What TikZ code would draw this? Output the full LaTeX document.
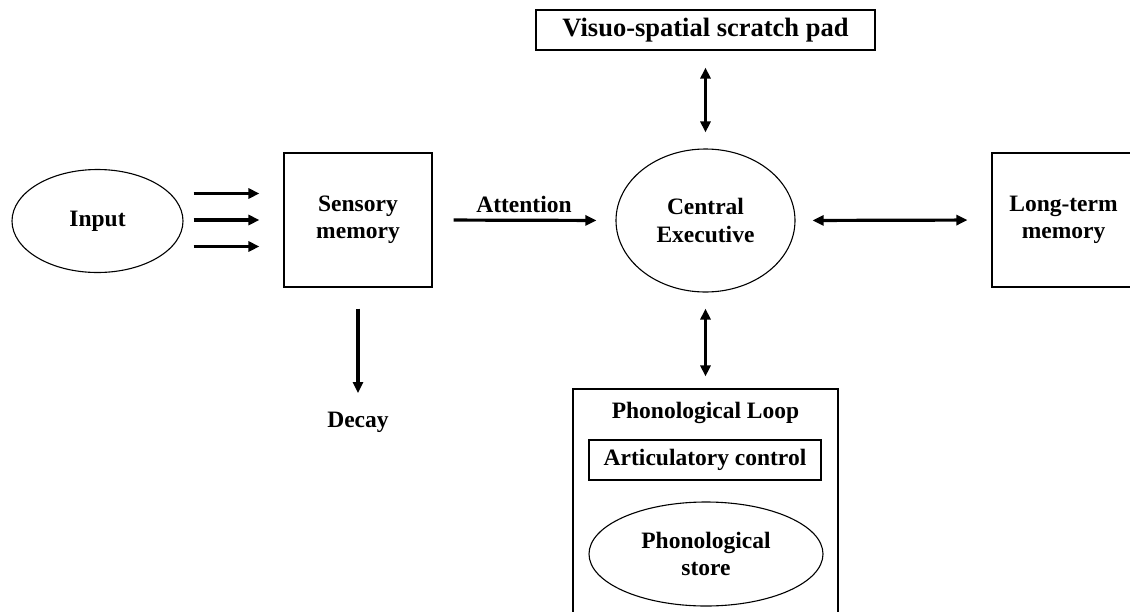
\documentclass[tikz,border=0pt]{standalone}
\usepackage{fontspec}
\setmainfont{Liberation Serif}
\usetikzlibrary{arrows.meta,shapes.geometric}

\begin{document}
\begin{tikzpicture}[x=1pt,y=-1pt,
  every node/.style={font=\fontsize{23.5}{27.5}\selectfont\bfseries,
                     align=center, inner sep=0pt},
  box/.style={draw, line width=1.1pt, rectangle},
  oval/.style={draw, line width=1.1pt, ellipse},
  tip/.tip={Triangle[length=11pt,width=10pt]},
  arr/.style={line width=3.2pt, -tip},
  darr/.style={line width=3.2pt, tip-tip},
]
\useasboundingbox (0,0) rectangle (1130,611);
\fill[white] (0,0) rectangle (1130,611);

% memory stores
\node[oval, minimum width=171pt, minimum height=103pt] (in) at (97.5,221) {Input};
\node[box, minimum width=148pt, minimum height=134pt] (sm) at (358,220) {Sensory\\memory};
\node[oval, minimum width=179pt, minimum height=143pt] (ce) at (705.5,220.5) {Central\\Executive};
\node[box, minimum width=339pt, minimum height=40pt,
      font=\fontsize{26.5}{30}\selectfont\bfseries] (vs) at (705.5,30) {Visuo-spatial scratch pad};
\node[box, minimum width=143pt, minimum height=134pt] (ltm) at (1063.5,220) {Long-term\\memory};

% phonological loop and its parts
\node[box, minimum width=265pt, minimum height=260pt] (loop) at (705.5,519) {};
\node (looptitle) at (705.5,413) {Phonological Loop};
\node[box, minimum width=232pt, minimum height=40pt] (art) at (705,460) {Articulatory control};
\node[oval, minimum width=234pt, minimum height=104pt] (store) at (706,554) {Phonological\\store};

% free labels
\node (decay) at (358,422) {Decay};
\node (att) at (524,204) {Attention};

% connectors
\foreach \dy in {26.5,0,-26.5}
  \draw[arr] ([xshift=10pt,yshift=\dy pt]sm.west -| in.east) -- ([xshift=-24pt,yshift=\dy pt]sm.west);
\draw[arr, shorten <=21pt, shorten >=19pt] (sm.east) -- (ce.west);
\draw[arr, shorten <=21pt, shorten >=18.5pt] (sm.south) -- (decay.north);
\draw[darr, shorten <=17pt, shorten >=24pt] (ce.east) -- (ltm.west);
\draw[darr, shorten <=17pt, shorten >=16pt] (vs.south) -- (ce.north);
\draw[darr, shorten <=16pt, shorten >=12pt] (ce.south) -- (loop.north);
\end{tikzpicture}
\end{document}
